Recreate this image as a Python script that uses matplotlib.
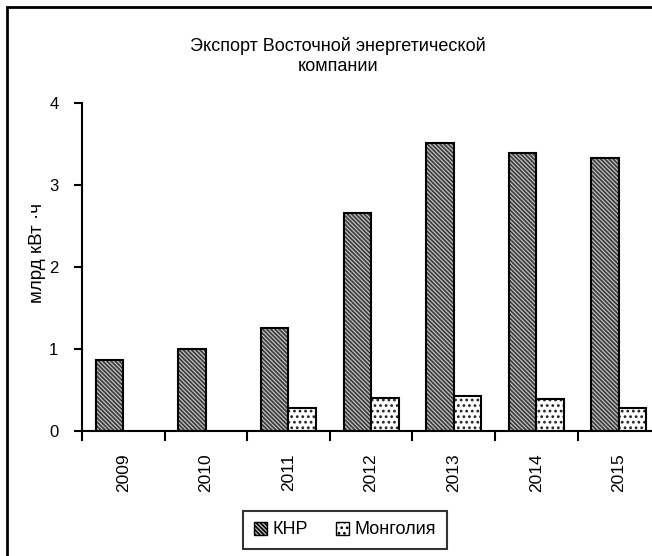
import matplotlib

matplotlib.use("Agg")
import matplotlib.pyplot as plt
import matplotlib.patches as mpatches
import numpy as np

plt.rcParams["font.family"] = ["Liberation Sans", "DejaVu Sans"]
plt.rcParams["hatch.linewidth"] = 1.2

years = ["2009", "2010", "2011", "2012", "2013", "2014", "2015"]
khr = [0.86, 1.00, 1.25, 2.65, 3.51, 3.38, 3.32]
mongolia = [0.0, 0.0, 0.28, 0.40, 0.43, 0.39, 0.28]

W, H = 652, 556
fig = plt.figure(figsize=(W / 100, H / 100), dpi=100)

# рамка вокруг диаграммы (правый и нижний край обрезаны)
fig.patches.append(mpatches.Rectangle((7 / W, -0.2), 2.0, (H - 7) / H + 0.2,
                                      transform=fig.transFigure, fill=False,
                                      edgecolor="black", linewidth=2))

ax = fig.add_axes([82 / W, (H - 431) / H, 7 * 82.6 / W, (431 - 102.5) / H])
x = np.arange(len(years))
bw = 1 / 3
khr_hatch = "\\" * 8

ax.bar(x - bw / 2, khr, bw, color="#c0c0c0", edgecolor="#3a3a3a", hatch=khr_hatch, linewidth=0)
ax.bar(x - bw / 2, khr, bw, fill=False, edgecolor="black", linewidth=1.5)
mx = [xi for xi, v in zip(x, mongolia) if v > 0]
mv = [v for v in mongolia if v > 0]
ax.bar(np.array(mx) + bw / 2, mv, bw, color="white", edgecolor="#222222", hatch="...", linewidth=0)
ax.bar(np.array(mx) + bw / 2, mv, bw, fill=False, edgecolor="black", linewidth=1.5)

ax.set_xlim(-0.5, 6.5)
ax.set_ylim(0, 4)
ax.set_yticks([0, 1, 2, 3, 4])
ax.tick_params(axis="y", direction="out", length=6, width=1.5, labelsize=12, pad=11)
ax.set_xticks(x)
ax.set_xticklabels(years, rotation=90, fontsize=12.5)
ax.set_xticks(np.arange(-0.5, 7, 1), minor=True)
ax.tick_params(axis="x", which="major", length=0, pad=16)
ax.tick_params(axis="x", which="minor", direction="out", length=7, width=1.5)
for s in ["top", "right"]:
    ax.spines[s].set_visible(False)
for s in ["left", "bottom"]:
    ax.spines[s].set_linewidth(1.5)

fig.text(338 / W, 1 - 56 / H, "Экспорт Восточной энергетической\nкомпании",
         ha="center", va="center", fontsize=13, linespacing=1.2)
fig.text(37 / W, 1 - 253 / H, "млрд кВт ·ч", rotation=90, ha="center", va="center", fontsize=13.5)

h1 = mpatches.Patch(facecolor="#c0c0c0", edgecolor="black", hatch=khr_hatch, linewidth=1)
h2 = mpatches.Patch(facecolor="white", edgecolor="black", hatch="...", linewidth=1)
leg = fig.legend([h1, h2], ["КНР", "Монголия"], ncol=2, loc="center",
                 bbox_to_anchor=(345 / W, 1 - 530 / H), frameon=True, fancybox=False,
                 edgecolor="black", fontsize=13, handlelength=0.7, handleheight=0.7,
                 handletextpad=0.3, columnspacing=1.6, borderpad=0.6)
leg.get_frame().set_linewidth(1.5)

fig.savefig("out.png", dpi=100)
plt.close(fig)
